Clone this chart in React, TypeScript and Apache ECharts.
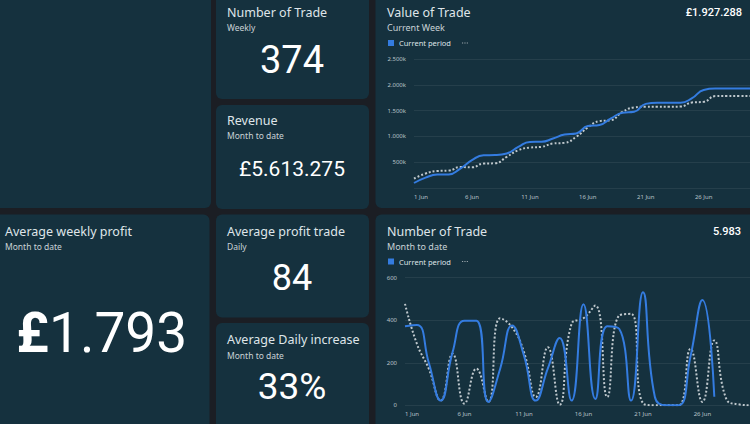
import React, { useEffect, useRef } from 'react';
import * as echarts from 'echarts';

const days = [
  '1 Jun', '2 Jun', '3 Jun', '4 Jun', '5 Jun', '6 Jun', '7 Jun', '8 Jun', '9 Jun', '10 Jun',
  '11 Jun', '12 Jun', '13 Jun', '14 Jun', '15 Jun', '16 Jun', '17 Jun', '18 Jun', '19 Jun', '20 Jun',
  '21 Jun', '22 Jun', '23 Jun', '24 Jun', '25 Jun', '26 Jun', '27 Jun', '28 Jun', '29 Jun', '30 Jun',
];

// Value of Trade (thousands of £), cumulative
const valueCurrent = [
  97, 201, 260, 262, 376, 538, 635, 638, 668, 797,
  893, 895, 959, 1037, 1057, 1200, 1220, 1348, 1457, 1476,
  1630, 1650, 1650, 1652, 1740, 1900, 1927, 1927, 1927, 1927,
];
const valuePrevious = [
  182, 280, 330, 337, 408, 400, 473, 480, 602, 732,
  784, 797, 862, 875, 991, 1173, 1295, 1315, 1476, 1561,
  1575, 1575, 1575, 1578, 1658, 1670, 1781, 1785, 1785, 1785,
];

// Number of Trade (daily)
const tradesCurrent = [
  372, 378, 200, 22, 250, 398, 398, 16, 172, 375,
  234, 22, 172, 316, 22, 475, 30, 372, 360, 22,
  531, 40, 0, 0, 230, 495, 40,
];
const tradesPrevious = [
  477, 289, 172, 23, 242, 8, 172, 16, 409, 367,
  250, 39, 273, 3, 383, 409, 469, 39, 422, 430,
  10, 0, 0, 0, 265, 16, 305, 31, 5, 0,
];

const valueTicks = [0, 500, 1000, 1500, 2000, 2500];
const tradeTicks = [0, 200, 400, 600];

const BG = '#1b1e24';
const CARD = '#15313e';
const BLUE = '#347ce0';
const GREY = '#bfc8cd';
const TITLE = '#dfe5e9';
const SUB = '#c9d1d6';
const AXIS = '#b9c3c9';
const TFONT = '"Noto Sans", "Open Sans", sans-serif';
const NFONT = 'Roboto, "Noto Sans", sans-serif';

function fmtK(v: number): string {
  if (v === 0) return '';
  const th = Math.floor(v / 1000);
  const rest = v % 1000;
  return (th > 0 ? th + '.' + String(rest).padStart(3, '0') : String(rest)) + 'k';
}

const dotsIcon = 'path://M0,0h1v1h-1zM2,0h1v1h-1zM4,0h1v1h-1z';

function card(x: number, y: number, w: number, h: number) {
  return { type: 'rect', z: -1, shape: { x, y, width: w, height: h, r: 6 }, style: { fill: CARD } };
}
function txt(x: number, y: number, text: string, size: number, opts: any = {}) {
  return {
    type: 'text', z: 10, x, y,
    style: {
      text, fontSize: size, fontFamily: opts.family || TFONT, fontWeight: opts.weight || 'normal',
      fill: opts.color || TITLE, align: opts.align || 'left', verticalAlign: 'middle',
    },
  };
}

function legendFor(top: number) {
  return {
    left: 388, top, padding: 0, itemWidth: 6, itemHeight: 6, itemGap: 11, selectedMode: false,
    textStyle: { color: '#dfe4e8', fontSize: 7.5, fontFamily: TFONT },
    formatter: (n: string) => (n === 'Current period' ? n : ''),
    data: [
      { name: 'Current period', icon: 'rect', itemStyle: { color: BLUE } },
      { name: 'Previous period', icon: dotsIcon, itemStyle: { color: '#9aa5ab' } },
    ],
  };
}

export default function App() {
  const ref = useRef<HTMLDivElement>(null);
  useEffect(() => {
    if (!ref.current) return;
    const chart = echarts.init(ref.current, undefined, { renderer: 'svg' });
    const axisLabel = { color: AXIS, fontSize: 6, fontFamily: TFONT };
    const splitLine = { show: true, lineStyle: { color: 'rgba(255,255,255,0.07)', width: 1 } };
    chart.setOption({
      animation: false,
      backgroundColor: BG,
      legend: [legendFor(39), legendFor(257.5)],
      grid: [
        { left: 414, right: 0, top: 59, bottom: 236, containLabel: false },
        { left: 405, right: 0, top: 277.7, bottom: 18.7, containLabel: false },
      ],
      xAxis: [0, 1].map((i) => ({
        type: 'category', gridIndex: i, data: days, boundaryGap: false,
        axisLine: { show: false }, axisTick: { show: false },
        axisLabel: { ...axisLabel, interval: 4, margin: 6, alignMinLabel: 'left' },
        splitLine: { show: false },
      })),
      yAxis: [
        {
          type: 'value', gridIndex: 0, min: valueTicks[0], max: valueTicks[valueTicks.length - 1], interval: 500,
          axisLine: { show: false }, axisTick: { show: false },
          axisLabel: { ...axisLabel, margin: 8, formatter: (v: number) => fmtK(v) },
          splitLine,
        },
        {
          type: 'value', gridIndex: 1, min: tradeTicks[0], max: tradeTicks[tradeTicks.length - 1], interval: 200,
          axisLine: { show: false }, axisTick: { show: false },
          axisLabel: { ...axisLabel, margin: 8 },
          splitLine,
        },
      ],
      series: [
        {
          name: 'Previous period', type: 'line', xAxisIndex: 0, yAxisIndex: 0, data: valuePrevious,
          smooth: 0.5, showSymbol: false, color: GREY,
          lineStyle: { color: GREY, width: 2, type: 'dotted' },
        },
        {
          name: 'Current period', type: 'line', xAxisIndex: 0, yAxisIndex: 0, data: valueCurrent,
          smooth: 0.5, showSymbol: false, color: BLUE,
          lineStyle: { color: BLUE, width: 2 },
        },
        {
          name: 'Previous period', type: 'line', xAxisIndex: 1, yAxisIndex: 1, data: tradesPrevious,
          smooth: 0.5, showSymbol: false, color: GREY,
          lineStyle: { color: GREY, width: 2, type: 'dotted' },
        },
        {
          name: 'Current period', type: 'line', xAxisIndex: 1, yAxisIndex: 1, data: tradesCurrent,
          smooth: 0.5, showSymbol: false, color: BLUE,
          lineStyle: { color: BLUE, width: 2 },
        },
      ],
      graphic: [
        card(-10, -10, 221, 218),
        card(216, -10, 153, 109),
        card(216, 105, 153, 104),
        card(375.5, -10, 390, 218),
        card(-10, 214.5, 219.5, 230),
        card(216, 214.5, 153, 103),
        card(216, 323, 153, 120),
        card(375.5, 214.5, 390, 230),

        txt(227, 12.7, 'Number of Trade', 12.5),
        txt(227, 27.3, 'Weekly', 8.5, { color: SUB }),
        txt(292, 60, '374', 38, { family: NFONT, color: '#ffffff', align: 'center' }),

        txt(227, 120, 'Revenue', 12.5),
        txt(227, 135, 'Month to date', 8.5, { color: SUB }),
        txt(292, 168.5, '£5.613.275', 21, { family: NFONT, color: '#ffffff', align: 'center' }),

        txt(387, 12.7, 'Value of Trade', 12.5),
        txt(387, 27.3, 'Current Week', 9, { color: SUB }),
        txt(742, 12.5, '£1.927.288', 11, { family: NFONT, weight: 500, color: '#ffffff', align: 'right' }),

        txt(5, 231.3, 'Average weekly profit', 12.5),
        txt(5, 246.3, 'Month to date', 8.5, { color: SUB }),
        {
          type: 'text', z: 10, x: 101.7, y: 333,
          style: {
            text: '{a|£}{b|1.793}', align: 'center', verticalAlign: 'middle',
            rich: {
              a: { fontSize: 55, fontFamily: NFONT, fontWeight: 'bold', fill: '#ffffff' },
              b: { fontSize: 55, fontFamily: NFONT, fontWeight: 'normal', fill: '#ffffff' },
            },
          },
        },

        txt(227, 231.3, 'Average profit trade', 12.5),
        txt(227, 246.3, 'Daily', 8.5, { color: SUB }),
        txt(292, 278, '84', 36, { family: NFONT, color: '#ffffff', align: 'center' }),

        txt(227, 339.7, 'Average Daily increase', 12.5),
        txt(227, 355, 'Month to date', 8.5, { color: SUB }),
        txt(292, 386, '33%', 37, { family: NFONT, color: '#ffffff', align: 'center' }),

        txt(387, 231.3, 'Number of Trade', 12.5),
        txt(387, 246.3, 'Month to date', 9, { color: SUB }),
        txt(741, 231.3, '5.983', 11, { family: NFONT, weight: 500, color: '#ffffff', align: 'right' }),
      ],
    });
    return () => chart.dispose();
  }, []);
  return (
    <div
      ref={ref}
      style={{ position: 'absolute', left: 0, top: 0, width: 750, height: 424 }}
    />
  );
}
